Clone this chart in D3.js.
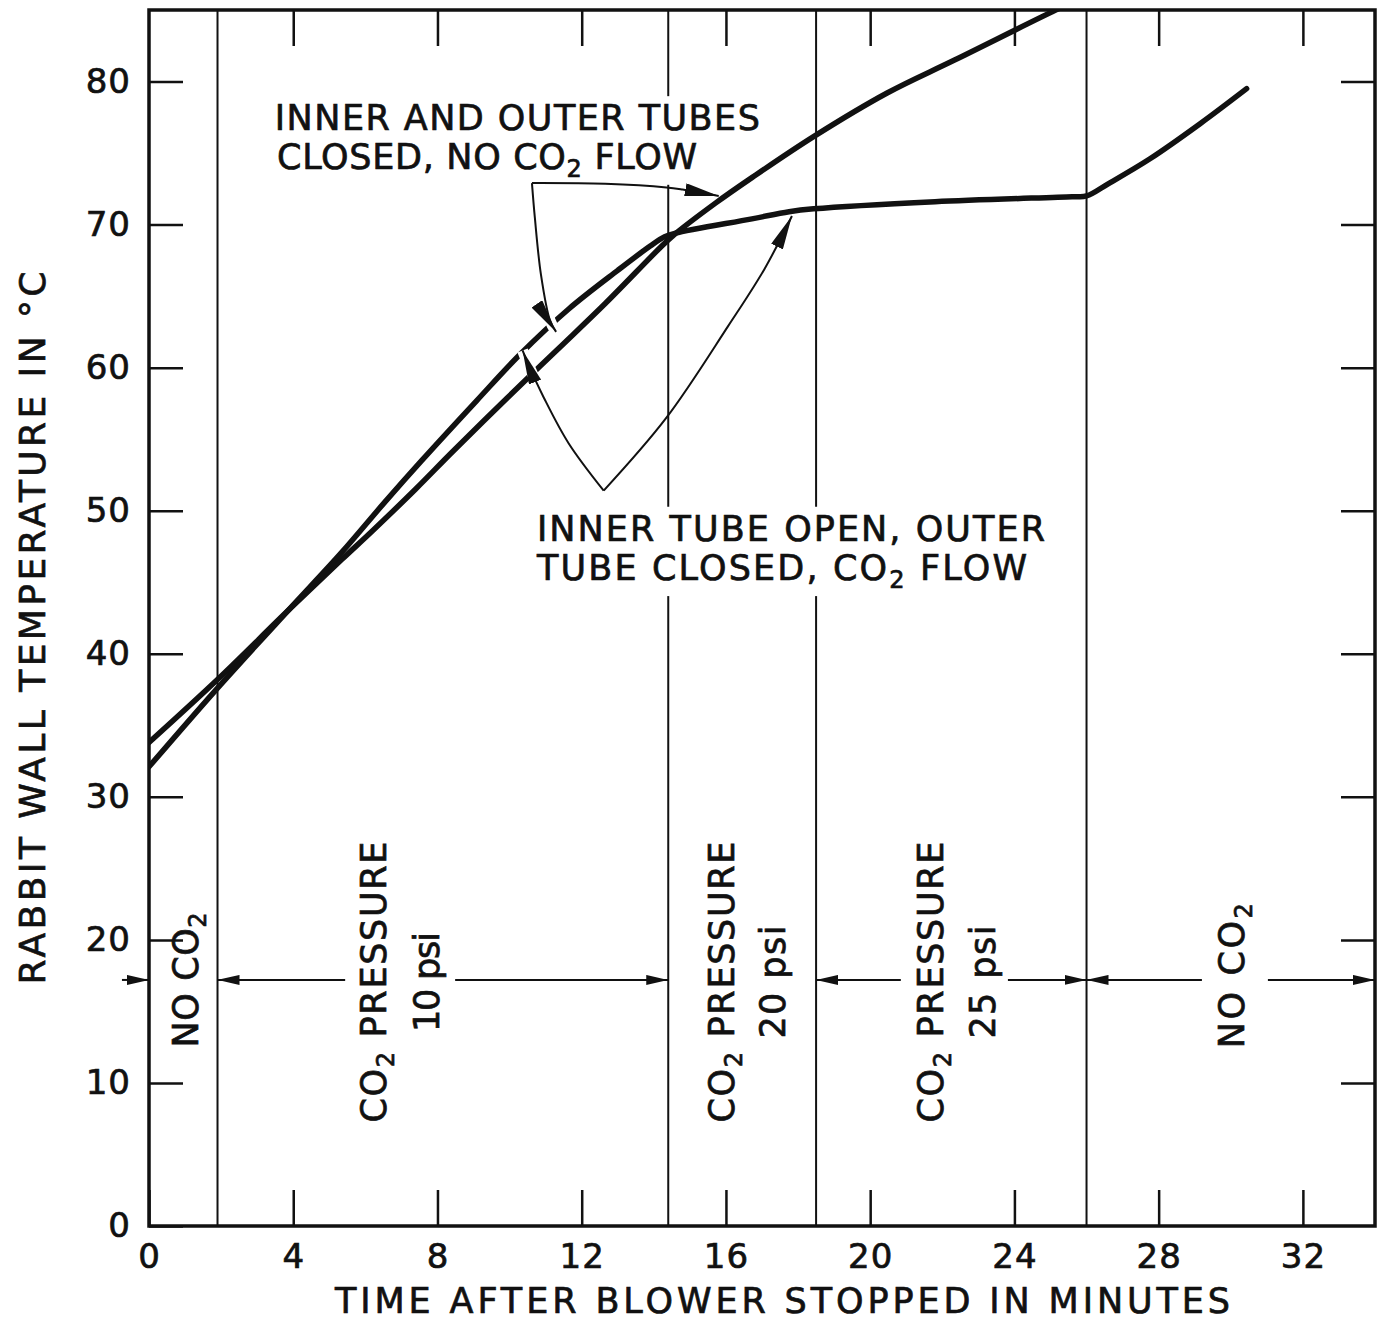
<!DOCTYPE html>
<html>
<head>
<meta charset="utf-8">
<script src="https://cdn.jsdelivr.net/npm/d3@7"></script>
<style>
  body { margin: 0; background: #fff; }
  svg text { font-family: "DejaVu Sans", "Liberation Sans", sans-serif; fill: #111; stroke: #111; stroke-width: 0.7px; white-space: pre; }
</style>
</head>
<body>
<svg id="chart" width="1383" height="1325"></svg>
<script>
// Axis ticks
const xTicks = [0, 4, 8, 12, 16, 20, 24, 28, 32];
const yTicks = [0, 10, 20, 30, 40, 50, 60, 70, 80];

// Inner and outer tubes closed, no CO2 flow (minutes, °C)
const closedTime = [0, 1.9, 3.85, 5.35, 6.2, 7.39, 8.41, 9.94, 11.3, 12.66, 14.18, 14.52, 15.71, 16.73, 18.43, 20.47, 22.34, 25.22, 25.6];
const closedTemp = [33.8, 38.2, 43.0, 46.6, 48.6, 51.5, 54.1, 57.9, 61.2, 64.5, 68.4, 69.2, 71.5, 73.3, 76.15, 79.2, 81.5, 85.08, 85.5];

// Inner tube open, outer tube closed, CO2 flow (minutes, °C)
const flowTime = [0, 1.9, 3.85, 5.35, 6.54, 7.56, 9.09, 10.28, 11.64, 13.0, 13.9, 14.3, 14.6, 16.72, 17.75, 18.43, 21.8, 25.6, 26.0, 26.6, 27.76, 29.15, 30.44];
const flowTemp = [32.1, 37.6, 43.0, 47.1, 50.6, 53.5, 57.7, 60.9, 64.1, 66.8, 68.5, 69.15, 69.4, 70.4, 70.9, 71.1, 71.6, 71.95, 72.0, 72.85, 74.6, 77.05, 79.5];

// CO2 supply phases (boundaries in minutes)
const phaseBounds = [1.9, 14.4, 18.5, 26];
const phaseLine1 = ["NO CO2", "CO2 PRESSURE", "CO2 PRESSURE", "CO2 PRESSURE", "NO CO2"];
const phaseLine2 = ["", "10 psi", "20 psi", "25 psi", ""];
const phaseLine1Time = [1.0, 6.21, 15.86, 21.66, 30.03];
const phaseLine2Time = [null, 7.68, 17.28, 23.1, null];
const phaseLine1Temp = [17.2, 17.05, 17.05, 17.05, 17.5];
const phaseLine1Len = [135, 281, 281, 281, 145];
const phaseLine2Len = [0, 100, 113, 113, 0];
const phaseArrowTemp = 17.2;
const phaseArrowFrom = [-0.75, 5.44, 8.49, 20.85, 23.82, 29.2, 31.03];
const phaseArrowTo   = [0, 1.9, 14.4, 18.5, 26, 26, 34];

// Curve annotations
const noteLines = ["INNER AND OUTER TUBES", "CLOSED, NO CO2 FLOW", "INNER TUBE OPEN, OUTER", "TUBE CLOSED, CO2 FLOW"];
const noteTime = [3.49, 3.55, 10.76, 10.76];
const noteTemp = [76.6, 73.9, 47.9, 45.15];
const noteLen = [485, 420, 508, 490];

// Leader arrows (minutes, °C), last point is the arrow tip
const leaders = [
  { pts: [[10.62, 72.9], [12.65, 72.85], [14.35, 72.6], [14.8, 72.45], [15.8, 72.0]], halo: false },
  { pts: [[10.62, 72.9], [10.70, 70.5], [10.87, 66.5], [11.12, 63.3], [11.29, 62.5]], halo: true },
  { pts: [[12.61, 51.4], [11.64, 54.7], [10.95, 57.9], [10.54, 60.1], [10.36, 61.2]], halo: true },
  { pts: [[12.61, 51.4], [14.35, 56.5], [16.06, 62.9], [17.07, 66.9], [17.83, 70.6]], halo: false }
];

const svg = d3.select("#chart");
const x = d3.scaleLinear().domain([0, 34]).range([149, 1375]);
const y = d3.scaleLinear().domain([0, 85]).range([1226, 10]);
const FS = 35, SUB_FS = 24, SUB_DY = 8;

const defs = svg.append("defs");
defs.append("clipPath").attr("id", "plotClip")
  .append("rect").attr("x", x(0)).attr("y", y(85)).attr("width", x(34) - x(0)).attr("height", y(0) - y(85));
function marker(id, len, wid) {
  defs.append("marker").attr("id", id).attr("markerUnits", "userSpaceOnUse")
    .attr("viewBox", `0 0 ${len} ${wid}`).attr("markerWidth", len).attr("markerHeight", wid)
    .attr("refX", len).attr("refY", wid / 2).attr("orient", "auto")
    .append("path").attr("d", `M0,0 L${len},${wid / 2} L0,${wid} Z`).attr("fill", "#111");
}
marker("headBig", 34, 13);
marker("headSmall", 22, 10);

// Text with "CO2" rendered as CO + subscript 2
function richText(sel, str) {
  const pieces = str.split("CO2");
  let shifted = false;
  pieces.forEach((p, i) => {
    const txt = p + (i < pieces.length - 1 ? "CO" : "");
    if (txt) {
      const ts = sel.append("tspan").text(txt);
      if (shifted) { ts.attr("dy", -SUB_DY); shifted = false; }
    }
    if (i < pieces.length - 1) {
      sel.append("tspan").attr("dy", SUB_DY).attr("font-size", SUB_FS).text("2");
      shifted = true;
    }
  });
  return sel;
}

// Phase boundary lines
svg.append("g").selectAll("line").data(phaseBounds).join("line")
  .attr("x1", d => x(d)).attr("x2", d => x(d)).attr("y1", y(85)).attr("y2", y(0))
  .attr("stroke", "#111").attr("stroke-width", 2);

// Axes with inward ticks on all four sides
const tickStyle = g => {
  g.select(".domain").remove();
  g.selectAll(".tick line").attr("stroke", "#111").attr("stroke-width", 2.5);
  g.selectAll(".tick text").attr("font-size", 34).attr("fill", "#111")
    .attr("font-family", '"DejaVu Sans", sans-serif').attr("letter-spacing", 1);
};
svg.append("g").attr("transform", `translate(0,${y(0)})`)
  .call(d3.axisBottom(x).tickValues(xTicks).tickSizeInner(-36).tickSizeOuter(0).tickPadding(18))
  .call(tickStyle);
svg.append("g").attr("transform", `translate(0,${y(85)})`)
  .call(d3.axisTop(x).tickValues(xTicks.slice(1)).tickSizeInner(-36).tickSizeOuter(0).tickFormat(""))
  .call(tickStyle);
svg.append("g").attr("transform", `translate(${x(0)},0)`)
  .call(d3.axisLeft(y).tickValues(yTicks).tickSizeInner(-34).tickSizeOuter(0).tickPadding(18))
  .call(tickStyle);
svg.append("g").attr("transform", `translate(${x(34)},0)`)
  .call(d3.axisRight(y).tickValues(yTicks.slice(1)).tickSizeInner(-34).tickSizeOuter(0).tickFormat(""))
  .call(tickStyle);

// Frame
svg.append("rect").attr("x", x(0)).attr("y", y(85)).attr("width", x(34) - x(0)).attr("height", y(0) - y(85))
  .attr("fill", "none").attr("stroke", "#111").attr("stroke-width", 3.5);

// Temperature curves
const line = d3.line().x(d => x(d[0])).y(d => y(d[1])).curve(d3.curveCatmullRom.alpha(0.5));
const curves = svg.append("g").attr("clip-path", "url(#plotClip)");
[[closedTime, closedTemp], [flowTime, flowTemp]].forEach(([t, v]) => {
  curves.append("path").datum(t.map((d, i) => [d, v[i]]))
    .attr("d", line).attr("fill", "none").attr("stroke", "#111")
    .attr("stroke-width", 5.5).attr("stroke-linejoin", "round").attr("stroke-linecap", "round");
});

// Annotation text, with a white backing that breaks the phase lines
const notes = svg.append("g");
noteLines.forEach((s, i) => {
  const t = notes.append("text").attr("x", x(noteTime[i])).attr("y", y(noteTemp[i]))
    .attr("font-size", FS).attr("textLength", noteLen[i]).attr("lengthAdjust", "spacing");
  richText(t, s);
  const b = t.node().getBBox();
  notes.insert("rect", "text").attr("x", b.x - 4).attr("y", b.y - 2).attr("width", b.width + 8).attr("height", b.height + 4)
    .attr("fill", "#fff");
});

// Leader arrows
const leaderLine = d3.line().x(d => x(d[0])).y(d => y(d[1])).curve(d3.curveCatmullRom);
leaders.forEach(l => {
  if (l.halo) {
    svg.append("path").attr("d", leaderLine(l.pts.slice(1))).attr("fill", "none")
      .attr("stroke", "#fff").attr("stroke-width", 11);
  }
  svg.append("path").attr("d", leaderLine(l.pts)).attr("fill", "none")
    .attr("stroke", "#111").attr("stroke-width", 2).attr("marker-end", "url(#headBig)");
});

// Phase labels (vertical) and span arrows
phaseLine1.forEach((s, i) => {
  const t = svg.append("text")
    .attr("transform", `translate(${x(phaseLine1Time[i])},${y(phaseLine1Temp[i])}) rotate(-90)`)
    .attr("text-anchor", "middle").attr("dy", "0.36em").attr("font-size", FS)
    .attr("textLength", phaseLine1Len[i]).attr("lengthAdjust", "spacing");
  richText(t, s);
  if (phaseLine2[i]) {
    svg.append("text")
      .attr("transform", `translate(${x(phaseLine2Time[i])},${y(phaseLine1Temp[i])}) rotate(-90)`)
      .attr("text-anchor", "middle").attr("dy", "0.36em").attr("font-size", FS)
      .attr("textLength", phaseLine2Len[i]).attr("lengthAdjust", "spacing")
      .text(phaseLine2[i]);
  }
});
svg.append("g").selectAll("line").data(phaseArrowFrom).join("line")
  .attr("x1", d => x(d)).attr("x2", (d, i) => x(phaseArrowTo[i]))
  .attr("y1", y(phaseArrowTemp)).attr("y2", y(phaseArrowTemp))
  .attr("stroke", "#111").attr("stroke-width", 2).attr("marker-end", "url(#headSmall)");

// Axis titles
svg.append("text").attr("x", 782.5).attr("y", 1313)
  .attr("text-anchor", "middle").attr("font-size", FS).attr("textLength", 895).attr("lengthAdjust", "spacing")
  .text("TIME AFTER BLOWER STOPPED IN MINUTES");
svg.append("text").attr("transform", "translate(45,628) rotate(-90)")
  .attr("text-anchor", "middle").attr("font-size", FS + 1).attr("textLength", 713).attr("lengthAdjust", "spacing")
  .text("RABBIT WALL TEMPERATURE IN °C");
</script>
</body>
</html>
